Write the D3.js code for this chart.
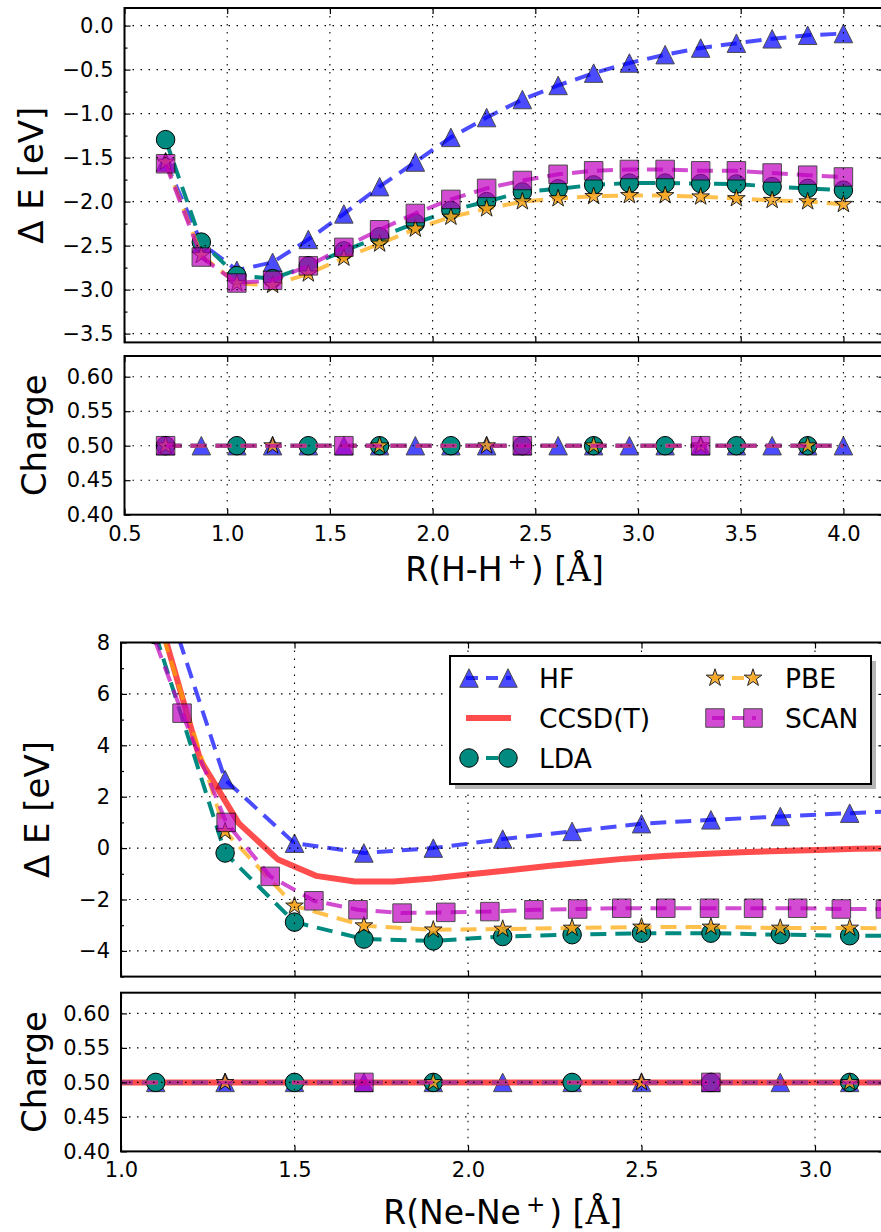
<!DOCTYPE html>
<html><head><meta charset="utf-8">
<script src="https://cdn.jsdelivr.net/npm/d3@7"></script>
<style>body{margin:0;background:#fff;} svg{display:block;font-family:"DejaVu Sans",sans-serif;}</style>
</head><body><svg id="c" width="881" height="1232"></svg>
<script>
// ---------------- DATA ----------------
// H-H+ panel
const hhX = [0.7, 0.874, 1.047, 1.221, 1.395, 1.568, 1.742, 1.916, 2.089, 2.263, 2.437, 2.611, 2.784, 2.958, 3.132, 3.305, 3.479, 3.653, 3.826, 4.0];
const hhHF   = [-1.55, -2.47, -2.78, -2.69, -2.43, -2.14, -1.83, -1.55, -1.27, -1.045, -0.84, -0.68, -0.54, -0.425, -0.33, -0.255, -0.20, -0.15, -0.11, -0.09];
const hhLDA  = [-1.296, -2.46, -2.84, -2.875, -2.73, -2.56, -2.40, -2.245, -2.10, -2.0, -1.89, -1.855, -1.81, -1.79, -1.79, -1.795, -1.80, -1.83, -1.85, -1.87];
const hhPBE  = [-1.55, -2.61, -2.93, -2.95, -2.82, -2.64, -2.48, -2.31, -2.175, -2.08, -2.0, -1.965, -1.94, -1.93, -1.93, -1.945, -1.965, -1.985, -2.0, -2.03];
const hhSCAN = [-1.57, -2.63, -2.925, -2.895, -2.73, -2.52, -2.32, -2.135, -1.975, -1.85, -1.76, -1.69, -1.65, -1.635, -1.635, -1.65, -1.65, -1.675, -1.70, -1.72];
const hhChargeHF   = [0.5,0.5,0.5,0.5,0.5,0.5,0.5,0.5,0.5,0.5,0.5,0.5,0.5,0.5,0.5,0.5,0.5,0.5,0.5,0.5];
const hhChargeLDA  = [0.5,0.5,0.5,0.5,0.5,0.5,0.5,0.5,0.5,0.5,0.5,0.5,0.5,0.5,0.5,0.5,0.5,0.5,0.5,0.5];
const hhChargePBE  = [0.5,0.5,0.5,0.5,0.5,0.5,0.5,0.5,0.5,0.5,0.5,0.5,0.5,0.5,0.5,0.5,0.5,0.5,0.5,0.5];
const hhChargeSCAN = [0.5,0.5,0.5,0.5,0.5,0.5,0.5,0.5,0.5,0.5,0.5,0.5,0.5,0.5,0.5,0.5,0.5,0.5,0.5,0.5];

// Ne-Ne+ panel
const neX    = [1.1, 1.3, 1.5, 1.7, 1.9, 2.1, 2.3, 2.5, 2.7, 2.9, 3.1, 3.3];
const neHF   = [10.9, 2.66, 0.19, -0.19, 0.0, 0.35, 0.65, 0.95, 1.10, 1.23, 1.36, 1.48];
const neLDA  = [8.3, -0.19, -2.88, -3.54, -3.61, -3.44, -3.37, -3.31, -3.31, -3.37, -3.41, -3.42];
const nePBE  = [9.15, 0.65, -2.25, -3.02, -3.18, -3.15, -3.11, -3.07, -3.07, -3.11, -3.11, -3.12];
const neScanX = [1.05, 1.176, 1.303, 1.43, 1.556, 1.683, 1.81, 1.936, 2.063, 2.19, 2.316, 2.443, 2.57, 2.696, 2.823, 2.95, 3.076, 3.203];
const neSCAN  = [9.8, 5.25, 1.0, -1.10, -2.05, -2.40, -2.53, -2.50, -2.47, -2.40, -2.37, -2.34, -2.34, -2.34, -2.34, -2.34, -2.37, -2.37];
const neCcsdX = [1.005, 1.116, 1.228, 1.339, 1.451, 1.562, 1.674, 1.785, 1.896, 2.007, 2.119, 2.23, 2.342, 2.453, 2.564, 2.676, 2.787, 2.898, 3.01, 3.121, 3.232];
const neCCSD  = [19.0, 8.71, 3.44, 0.97, -0.43, -1.08, -1.30, -1.30, -1.18, -1.02, -0.86, -0.70, -0.55, -0.41, -0.31, -0.23, -0.16, -0.11, -0.07, -0.03, -0.01];
const neChargeX    = [0.7, 0.9, 1.1, 1.3, 1.5, 1.7, 1.9, 2.1, 2.3, 2.5, 2.7, 2.9, 3.1, 3.3];
const neChargeHF   = [0.5,0.5,0.5,0.5,0.5,0.5,0.5,0.5,0.5,0.5,0.5,0.5,0.5,0.5];
const neChargeCCSD = [0.5,0.5,0.5,0.5,0.5,0.5,0.5,0.5,0.5,0.5,0.5,0.5,0.5,0.5];
const neChargeLDA  = [0.5,0.5,0.5,0.5,0.5,0.5,0.5,0.5,0.5,0.5,0.5,0.5,0.5,0.5];
const neChargePBE  = [0.5,0.5,0.5,0.5,0.5,0.5,0.5,0.5,0.5,0.5,0.5,0.5,0.5,0.5];
const neChargeSCAN = [0.5,0.5,0.5,0.5,0.5,0.5,0.5,0.5,0.5,0.5,0.5,0.5,0.5,0.5];

// ticks
const hhXTicks = [0.5, 1.0, 1.5, 2.0, 2.5, 3.0, 3.5, 4.0];
const hhETicks = [-3.5, -3.0, -2.5, -2.0, -1.5, -1.0, -0.5, 0.0];
const hhEMinor = [-3.25, -2.75, -2.25, -1.75, -1.25, -0.75, -0.25];
const chargeTicks = [0.40, 0.45, 0.50, 0.55, 0.60];
const neXTicks = [1.0, 1.5, 2.0, 2.5, 3.0];
const neETicks = [-4, -2, 0, 2, 4, 6, 8];
const neEMinor = [-5, -3, -1, 1, 3, 5, 7];

// ---------------- STYLE ----------------
const STY = {
  HF:   {color:'#0000ff', alpha:0.7, mcolor:'#0000ff', malpha:0.7, marker:'tri',  lw:4, dash:'16,9', label:'HF'},
  CCSD: {color:'#ff0000', alpha:0.7, marker:null, lw:6, dash:null, label:'CCSD(T)'},
  LDA:  {color:'#008a80', alpha:1.0, mcolor:'#008a80', malpha:1.0, marker:'circ', lw:4, dash:'16,9', label:'LDA'},
  PBE:  {color:'#ffa500', alpha:0.7, mcolor:'#f7a41c', malpha:0.85, marker:'star', lw:4, dash:'16,9', label:'PBE'},
  SCAN: {color:'#bf00bf', alpha:0.7, mcolor:'#bf00bf', malpha:0.7, marker:'sq',   lw:4, dash:'16,9', label:'SCAN'}
};
const MS = 18.5;
const FONT = '"DejaVu Sans", sans-serif';

function markerPath(type, s){
  const h = s/2;
  if(type==='tri') return `M0,${-h}L${-h},${h}L${h},${h}Z`;
  if(type==='sq') return `M${-h},${-h}h${s}v${s}h${-s}Z`;
  if(type==='circ') return `M${h},0A${h},${h} 0 1,1 ${-h},0A${h},${h} 0 1,1 ${h},0Z`;
  if(type==='star'){
    const r = h*0.381966; let p='';
    for(let i=0;i<10;i++){
      const a = -Math.PI/2 + i*Math.PI/5; const rr = i%2===0? h : r;
      p += (i===0?'M':'L') + (rr*Math.cos(a)).toFixed(2)+','+(rr*Math.sin(a)).toFixed(2);
    }
    return p+'Z';
  }
  return '';
}

const svg = d3.select('#c');
svg.append('rect').attr('width',881).attr('height',1232).attr('fill','#fff');
const defs = svg.append('defs');

function panel(cfg){
  const xs = d3.scaleLinear().domain(cfg.xd).range(cfg.xr);
  const ys = d3.scaleLinear().domain(cfg.yd).range(cfg.yr);
  const L=cfg.xr[0], R=cfg.xr[1], T=cfg.yr[1], B=cfg.yr[0];
  defs.append('clipPath').attr('id',cfg.id).append('rect')
    .attr('x',L).attr('y',T).attr('width',R-L).attr('height',B-T);
  const g = svg.append('g');
  const data = g.append('g').attr('clip-path',`url(#${cfg.id})`);
  cfg.series.forEach(s=>{
    const st = STY[s.key];
    const pts = s.x.map((x,i)=>[x,s.y[i]]);
    data.append('path')
      .attr('d', d3.line().x(d=>xs(d[0])).y(d=>ys(d[1]))(pts))
      .attr('fill','none').attr('stroke',st.color).attr('stroke-opacity',st.alpha)
      .attr('stroke-width',st.lw).attr('stroke-dasharray',st.dash)
      .attr('stroke-linejoin','round');
    if(st.marker){
      const every = s.every||1;
      data.selectAll(null).data(pts.filter((d,i)=>i%every===0)).enter().append('path')
        .attr('d', markerPath(st.marker, MS))
        .attr('transform', d=>`translate(${xs(d[0])},${ys(d[1])})`)
        .attr('fill', st.mcolor).attr('stroke','#000').attr('stroke-width',1)
        .attr('opacity', st.malpha);
    }
  });
  // grid (drawn above data, as in reference)
  const grid = g.append('g');
  cfg.xt.forEach(t=>{ if(t>cfg.xd[0] && t<cfg.xd[1]) grid.append('line').attr('x1',xs(t)).attr('x2',xs(t)).attr('y1',T).attr('y2',B); });
  cfg.yt.forEach(t=>{ if(t>cfg.yd[0] && t<cfg.yd[1]) grid.append('line').attr('x1',L).attr('x2',R).attr('y1',ys(t)).attr('y2',ys(t)); });
  grid.selectAll('line').attr('stroke','#000').attr('stroke-width',1.1).attr('stroke-dasharray','1.5,6.5');

  // axes with inward ticks
  function style(sel){ sel.select('.domain').remove(); sel.attr('font-family',FONT).attr('font-size',21);
    sel.selectAll('line').attr('stroke','#000').attr('stroke-width',1.2); sel.selectAll('text').attr('fill','#000'); }
  const ax = g.append('g').attr('transform',`translate(0,${B})`)
    .call(d3.axisBottom(xs).tickValues(cfg.xt).tickSize(-6).tickPadding(11)
      .tickFormat(cfg.xlabels? d3.format('.1f') : ()=>''));
  style(ax);
  style(g.append('g').attr('transform',`translate(0,${T})`).call(d3.axisTop(xs).tickValues(cfg.xt).tickSize(-6).tickFormat(()=>'')));
  const ay = g.append('g').attr('transform',`translate(${L},0)`)
    .call(d3.axisLeft(ys).tickValues(cfg.yt).tickSize(-6).tickPadding(11).tickFormat(d3.format(cfg.yfmt)));
  style(ay);
  style(g.append('g').attr('transform',`translate(${R},0)`).call(d3.axisRight(ys).tickValues(cfg.yt).tickSize(-6).tickFormat(()=>'')));
  if(cfg.ym){
    style(g.append('g').attr('transform',`translate(${L},0)`).call(d3.axisLeft(ys).tickValues(cfg.ym).tickSize(-3).tickFormat(()=>'')));
    style(g.append('g').attr('transform',`translate(${R},0)`).call(d3.axisRight(ys).tickValues(cfg.ym).tickSize(-3).tickFormat(()=>'')));
  }
  // spines
  g.append('rect').attr('x',L).attr('y',T).attr('width',R-L).attr('height',B-T)
    .attr('fill','none').attr('stroke','#000').attr('stroke-width',2);
  // y label
  g.append('text').attr('transform',`translate(${cfg.ylx},${(T+B)/2}) rotate(-90)`)
    .attr('text-anchor','middle').attr('font-family',FONT).attr('font-size',34).text(cfg.ylabel);
  return {g, xs, ys, L, R, T, B};
}

const p1 = panel({id:'cp1', xd:[0.5,4.2], xr:[124.5,884.5], yd:[-3.6,0.2], yr:[342.4,8],
  xt:hhXTicks, yt:hhETicks, ym:hhEMinor, yfmt:'.1f', xlabels:false, ylabel:'Δ E [eV]', ylx:43,
  series:[{key:'HF',x:hhX,y:hhHF},{key:'LDA',x:hhX,y:hhLDA},{key:'PBE',x:hhX,y:hhPBE},{key:'SCAN',x:hhX,y:hhSCAN}]});
const p2 = panel({id:'cp2', xd:[0.5,4.2], xr:[124.5,884.5], yd:[0.4,0.63], yr:[514.7,356],
  xt:hhXTicks, yt:chargeTicks, ym:null, yfmt:'.2f', xlabels:true, ylabel:'Charge', ylx:46,
  series:[{key:'HF',x:hhX,y:hhChargeHF,every:1},{key:'LDA',x:hhX,y:hhChargeLDA,every:2},
          {key:'PBE',x:hhX,y:hhChargePBE,every:3},{key:'SCAN',x:hhX,y:hhChargeSCAN,every:5}]});
const p3 = panel({id:'cp3', xd:[1.0,3.2], xr:[121,884.4], yd:[-5,8], yr:[976.6,642.5],
  xt:neXTicks, yt:neETicks, ym:neEMinor, yfmt:'d', xlabels:false, ylabel:'Δ E [eV]', ylx:49,
  series:[{key:'HF',x:neX,y:neHF},{key:'CCSD',x:neCcsdX,y:neCCSD},{key:'LDA',x:neX,y:neLDA},
          {key:'PBE',x:neX,y:nePBE},{key:'SCAN',x:neScanX,y:neSCAN}]});
const p4 = panel({id:'cp4', xd:[1.0,3.2], xr:[121,884.4], yd:[0.4,0.63], yr:[1151.4,992.7],
  xt:neXTicks, yt:chargeTicks, ym:null, yfmt:'.2f', xlabels:true, ylabel:'Charge', ylx:46,
  series:[{key:'HF',x:neChargeX,y:neChargeHF,every:1},{key:'CCSD',x:neChargeX,y:neChargeCCSD},
          {key:'LDA',x:neChargeX,y:neChargeLDA,every:2},{key:'PBE',x:neChargeX,y:neChargePBE,every:3},
          {key:'SCAN',x:neChargeX,y:neChargeSCAN,every:5}]});

// x labels
function xlabel(pre, cx, y){
  const t = svg.append('text').attr('x',cx).attr('y',y).attr('text-anchor','middle')
    .attr('font-family',FONT).attr('font-size',33).attr('fill','#000');
  t.append('tspan').text(pre);
  t.append('tspan').attr('dx',5).attr('dy',-12).attr('font-size',23).text('+');
  t.append('tspan').attr('dx',4).attr('dy',12).text(') [');
  t.append('tspan').attr('font-family','"DejaVu Serif", serif').text('Å');
  t.append('tspan').text(']');
}
xlabel('R(H-H', (p2.L+p2.R)/2, 581);
xlabel('R(Ne-Ne', (p4.L+p4.R)/2, 1224);

// legend
const legendItems = [
  {key:'HF', col:0, row:0}, {key:'CCSD', col:0, row:1}, {key:'LDA', col:0, row:2},
  {key:'PBE', col:1, row:0}, {key:'SCAN', col:1, row:1}
];
const lg = svg.append('g');
const LB = {x:450, y:656, w:421, h:128};
lg.append('rect').attr('x',LB.x+5).attr('y',LB.y+5).attr('width',LB.w).attr('height',LB.h).attr('fill','#b5b5b5');
lg.append('rect').attr('x',LB.x).attr('y',LB.y).attr('width',LB.w).attr('height',LB.h)
  .attr('fill','#fff').attr('stroke','#000').attr('stroke-width',2);
const colX = [[469,508,539],[715,753,785]];
const rowY = [678, 718, 758];
legendItems.forEach(it=>{
  const st = STY[it.key]; const [x1,x2,tx] = colX[it.col]; const y = rowY[it.row];
  lg.append('line').attr('x1',x1-3).attr('x2',x2+3).attr('y1',y).attr('y2',y)
    .attr('stroke',st.color).attr('stroke-opacity',st.alpha).attr('stroke-width',st.lw)
    .attr('stroke-dasharray', st.dash? '12,8' : null);
  if(st.marker){
    [x1,x2].forEach(x=>lg.append('path').attr('d',markerPath(st.marker,MS))
      .attr('transform',`translate(${x},${y})`).attr('fill',st.mcolor)
      .attr('stroke','#000').attr('stroke-width',1).attr('opacity',st.malpha));
  }
  lg.append('text').attr('x',tx).attr('y',y+9.5).attr('font-family',FONT).attr('font-size',26.5).text(st.label);
});
</script></body></html>
